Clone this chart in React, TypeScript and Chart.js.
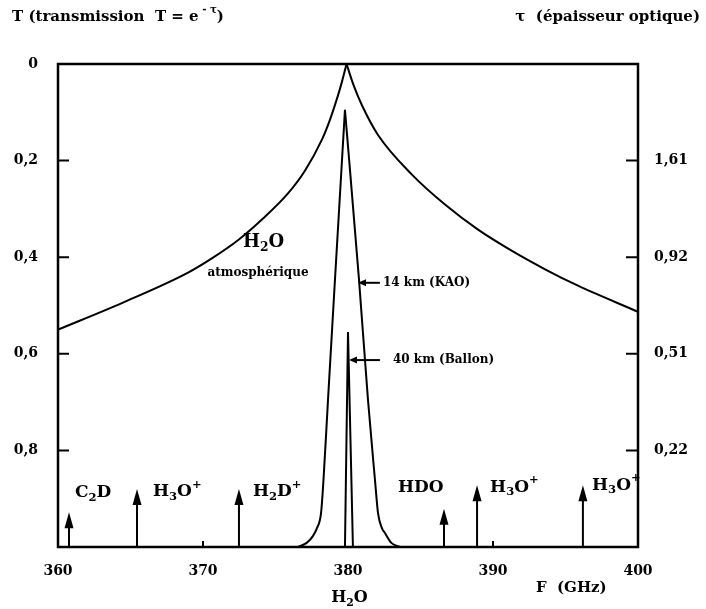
import React, { useEffect, useRef } from 'react';
import { Chart, registerables } from 'chart.js';
Chart.register(...registerables);

// ---- data ----
const xTickValues = [360, 370, 380, 390, 400];
const leftTickValues = [0, 0.2, 0.4, 0.6, 0.8];
const tauTickPositions = [0.2, 0.4, 0.6, 0.8];
const tauTickLabels = ['1,61', '0,92', '0,51', '0,22'];
const minorBottomTicks = [370, 390];

// atmospheric H2O transmission (ground), two branches around the cusp
const atmLeftF = [360, 364.48, 368.97, 370.69, 372.41, 374.14, 375.86, 377.03, 378.21, 378.76, 379.31, 379.59, 379.9];
const atmLeftT = [0.55, 0.494, 0.432, 0.401, 0.365, 0.32, 0.268, 0.221, 0.156, 0.115, 0.065, 0.036, 0.0];
const atmRightF = [379.9, 380.41, 380.97, 382.07, 384.41, 386.69, 388.97, 391.31, 393.59, 395.86, 400];
const atmRightT = [0.0, 0.046, 0.086, 0.147, 0.229, 0.291, 0.343, 0.387, 0.425, 0.459, 0.513];

// 14 km (KAO)
const kaoLeftF = [376.55, 377.17, 377.59, 377.86, 378.14, 378.31, 378.62, 379.1, 379.79];
const kaoLeftT = [1.0, 0.991, 0.977, 0.961, 0.93, 0.861, 0.696, 0.447, 0.095];
const kaoRightF = [379.79, 380.76, 381.38, 381.86, 382.07, 382.34, 382.55, 382.97, 383.59];
const kaoRightT = [0.095, 0.447, 0.696, 0.861, 0.93, 0.961, 0.971, 0.991, 1.0];

// 40 km (Ballon)
const balloonF = [379.79, 380.0, 380.34];
const balloonT = [1.0, 0.555, 1.0];

// species markers (arrows)
const arrowF = [360.76, 365.45, 372.48, 386.62, 388.9, 396.2];
const arrowTopT = [0.928, 0.88, 0.88, 0.921, 0.872, 0.872];
type Seg = [string, number]; // 0 normal, 1 subscript, 2 superscript
const speciesNames: Seg[][] = [
  [['C', 0], ['2', 1], ['D', 0]],
  [['H', 0], ['3', 1], ['O', 0], ['+', 2]],
  [['H', 0], ['2', 1], ['D', 0], ['+', 2]],
  [['HDO', 0]],
  [['H', 0], ['3', 1], ['O', 0], ['+', 2]],
  [['H', 0], ['3', 1], ['O', 0], ['+', 2]],
];
const speciesLabelF = [361.17, 366.55, 373.45, 383.45, 389.8, 396.83];
const speciesLabelT = [0.888, 0.886, 0.886, 0.878, 0.876, 0.872];

const FONT = '"DejaVu Serif", "Liberation Serif", serif';

function drawRich(ctx: CanvasRenderingContext2D, segs: Seg[], x: number, y: number, size: number, align: 'left' | 'center' | 'right') {
  const f = (s: number) => `bold ${s}px ${FONT}`;
  let w = 0;
  const widths = segs.map(([t, m]) => {
    ctx.font = f(m ? size * 0.68 : size);
    const ww = ctx.measureText(t).width;
    w += ww;
    return ww;
  });
  let cx = align === 'left' ? x : align === 'center' ? x - w / 2 : x - w;
  ctx.textBaseline = 'middle';
  ctx.textAlign = 'left';
  segs.forEach(([t, m], i) => {
    ctx.font = f(m ? size * 0.68 : size);
    const dy = m === 1 ? size * 0.3 : m === 2 ? -size * 0.42 : 0;
    ctx.fillText(t, cx, y + dy);
    cx += widths[i];
  });
}

function leftArrow(ctx: CanvasRenderingContext2D, x1: number, x2: number, y: number) {
  ctx.beginPath();
  ctx.moveTo(x1, y);
  ctx.lineTo(x2 + 6, y);
  ctx.lineWidth = 2;
  ctx.stroke();
  ctx.beginPath();
  ctx.moveTo(x2, y);
  ctx.lineTo(x2 + 8, y - 3.5);
  ctx.lineTo(x2 + 8, y + 3.5);
  ctx.closePath();
  ctx.fill();
}

const decorPlugin = {
  id: 'decor',
  afterDatasetsDraw(chart: any) {
    const { ctx, chartArea: a, scales } = chart;
    const x = scales.x;
    const y = scales.y;
    ctx.save();
    ctx.strokeStyle = '#000';
    ctx.fillStyle = '#000';
    // frame
    ctx.lineWidth = 2.5;
    ctx.strokeRect(a.left, a.top, a.right - a.left, a.bottom - a.top);
    // inner ticks left/right
    ctx.lineWidth = 2;
    tauTickPositions.forEach((v) => {
      const py = y.getPixelForValue(v);
      ctx.beginPath();
      ctx.moveTo(a.left, py);
      ctx.lineTo(a.left + 11, py);
      ctx.moveTo(a.right, py);
      ctx.lineTo(a.right - 12, py);
      ctx.stroke();
    });
    minorBottomTicks.forEach((v) => {
      const px = x.getPixelForValue(v);
      ctx.beginPath();
      ctx.moveTo(px, a.bottom);
      ctx.lineTo(px, a.bottom - 6);
      ctx.stroke();
    });
    // species arrows
    arrowF.forEach((f, i) => {
      const px = x.getPixelForValue(f);
      const top = y.getPixelForValue(arrowTopT[i]);
      ctx.beginPath();
      ctx.moveTo(px, a.bottom);
      ctx.lineTo(px, top + 12);
      ctx.lineWidth = 2;
      ctx.stroke();
      ctx.beginPath();
      ctx.moveTo(px, top);
      ctx.lineTo(px - 4.5, top + 16);
      ctx.lineTo(px + 4.5, top + 16);
      ctx.closePath();
      ctx.fill();
      drawRich(ctx, speciesNames[i], x.getPixelForValue(speciesLabelF[i]), y.getPixelForValue(speciesLabelT[i]), 17, 'left');
    });
    // annotations
    drawRich(ctx, [['H', 0], ['2', 1], ['O', 0]], x.getPixelForValue(372.76), y.getPixelForValue(0.369), 18, 'left');
    drawRich(ctx, [['atmosphérique', 0]], x.getPixelForValue(373.79), y.getPixelForValue(0.433), 12, 'center');
    const yk = y.getPixelForValue(0.453);
    leftArrow(ctx, x.getPixelForValue(382.2), x.getPixelForValue(380.69), yk);
    drawRich(ctx, [['14 km (KAO)', 0]], x.getPixelForValue(382.41), yk, 12, 'left');
    const yb = y.getPixelForValue(0.613);
    leftArrow(ctx, x.getPixelForValue(382.2), x.getPixelForValue(380.07), yb);
    drawRich(ctx, [['40 km (Ballon)', 0]], x.getPixelForValue(383.1), yb, 12, 'left');
    // titles
    drawRich(ctx, [['T (transmission  T = e', 0], [' - τ', 2], [')', 0]], 12, 17, 15, 'left');
    drawRich(ctx, [['τ  (épaisseur optique)', 0]], 700, 17, 15, 'right');
    // below axis
    drawRich(ctx, [['H', 0], ['2', 1], ['O', 0]], x.getPixelForValue(380.1), 598, 16, 'center');
    drawRich(ctx, [['F  (GHz)', 0]], x.getPixelForValue(395.4), 588, 15, 'center');
    ctx.restore();
  },
};

const pts = (fs: number[], ts: number[]) => fs.map((f, i) => ({ x: f, y: ts[i] }));

export default function App() {
  const ref = useRef<HTMLCanvasElement | null>(null);
  useEffect(() => {
    document.body.style.margin = '0';
    const canvas = ref.current!;
    const tickFont = { family: FONT, weight: 'bold' as const, size: 14 };
    const ds = (data: any[], smooth: boolean) => ({
      data,
      borderColor: '#000',
      borderWidth: 2,
      pointRadius: 0,
      fill: false,
      cubicInterpolationMode: smooth ? ('monotone' as const) : ('default' as const),
      tension: smooth ? 0.4 : 0,
    });
    const chart = new Chart(canvas, {
      type: 'line',
      data: {
        datasets: [
          ds(pts(atmLeftF, atmLeftT), true),
          ds(pts(atmRightF, atmRightT), true),
          ds(pts(kaoLeftF, kaoLeftT), true),
          ds(pts(kaoRightF, kaoRightT), true),
          ds(pts(balloonF, balloonT), false),
        ],
      },
      options: {
        responsive: false,
        animation: false,
        devicePixelRatio: 1,
        layout: { padding: { top: 64, left: 0, right: 0, bottom: 0 } },
        plugins: { legend: { display: false }, tooltip: { enabled: false } },
        scales: {
          x: {
            type: 'linear',
            min: 360,
            max: 400,
            afterFit: (s: any) => { s.height = 62; },
            afterBuildTicks: (s: any) => { s.ticks = xTickValues.map((v) => ({ value: v })); },
            grid: { display: false, drawTicks: false },
            border: { display: false },
            ticks: { padding: 16, color: '#000', font: tickFont, autoSkip: false, maxRotation: 0 },
          },
          y: {
            type: 'linear',
            min: 0,
            max: 1,
            reverse: true,
            afterFit: (s: any) => { s.width = 58; },
            afterBuildTicks: (s: any) => { s.ticks = leftTickValues.map((v) => ({ value: v })); },
            grid: { display: false, drawTicks: false },
            border: { display: false },
            ticks: {
              padding: 20,
              color: '#000',
              font: tickFont,
              callback: (v: any) => (v === 0 ? '0' : Number(v).toFixed(1).replace('.', ',')),
            },
          },
          y2: {
            type: 'linear',
            position: 'right',
            min: 0,
            max: 1,
            reverse: true,
            afterFit: (s: any) => { s.width = 68; },
            afterBuildTicks: (s: any) => { s.ticks = tauTickPositions.map((v) => ({ value: v })); },
            grid: { display: false, drawTicks: false },
            border: { display: false },
            ticks: {
              padding: 16,
              color: '#000',
              font: tickFont,
              callback: (_v: any, i: number) => tauTickLabels[i],
            },
          },
        },
      },
      plugins: [decorPlugin],
    });
    return () => chart.destroy();
  }, []);
  return <canvas ref={ref} width={706} height={609} style={{ display: 'block' }} />;
}
